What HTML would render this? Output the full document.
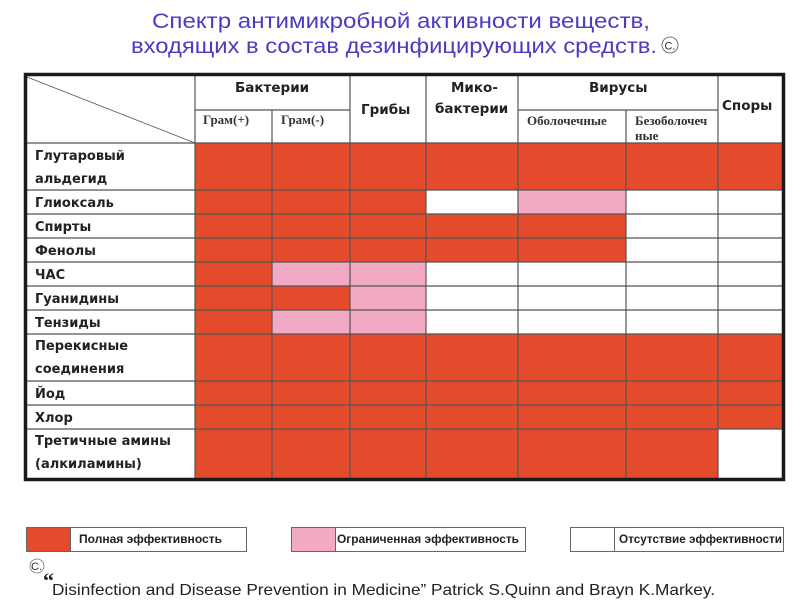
<!DOCTYPE html>
<html><head><meta charset="utf-8"><style>
html,body{margin:0;padding:0;background:#fff;}
svg{display:block;}
.lb{font-family:"DejaVu Sans",sans-serif;font-weight:bold;font-size:13px;fill:#222;}
.hd{font-family:"DejaVu Sans",sans-serif;font-weight:bold;font-size:13.5px;fill:#222;}
.sb{font-family:"Liberation Serif",serif;font-weight:bold;font-size:13px;fill:#333;}
.lg{font-family:"Liberation Sans",sans-serif;font-weight:bold;font-size:11.5px;fill:#222;}
</style></head><body>
<svg width="800" height="600" viewBox="0 0 800 600" xmlns="http://www.w3.org/2000/svg">
<rect width="800" height="600" fill="#fff"/>
<g font-family="Liberation Sans, sans-serif" font-size="21" fill="#4a3cc0">
<text x="152" y="28" textLength="498" lengthAdjust="spacingAndGlyphs">Спектр антимикробной активности веществ,</text>
<text x="131" y="53" textLength="526" lengthAdjust="spacingAndGlyphs">входящих в состав дезинфицирующих средств.</text>
</g>
<circle cx="670" cy="45" r="8" fill="none" stroke="#555" stroke-width="0.8"/>
<text x="664.5" y="49.5" font-family="Liberation Sans, sans-serif" font-size="11" fill="#333">C.</text>

<rect x="195" y="143" width="588" height="336" fill="#e44b2c"/>
<rect x="426" y="190" width="92" height="24" fill="#fff"/>
<rect x="518" y="190" width="108" height="24" fill="#f2a9c4"/>
<rect x="626" y="190" width="157" height="24" fill="#fff"/>
<rect x="626" y="214" width="157" height="48" fill="#fff"/>
<rect x="272" y="262" width="154" height="24" fill="#f2a9c4"/>
<rect x="426" y="262" width="357" height="72" fill="#fff"/>
<rect x="350" y="286" width="76" height="24" fill="#f2a9c4"/>
<rect x="272" y="310" width="154" height="24" fill="#f2a9c4"/>
<rect x="718" y="429" width="65" height="50" fill="#fff"/>

<g stroke="#555" stroke-width="1.2" fill="none">
<line x1="24" y1="143" x2="783" y2="143"/>
<line x1="24" y1="190" x2="783" y2="190"/>
<line x1="24" y1="214" x2="783" y2="214"/>
<line x1="24" y1="238" x2="783" y2="238"/>
<line x1="24" y1="262" x2="783" y2="262"/>
<line x1="24" y1="286" x2="783" y2="286"/>
<line x1="24" y1="310" x2="783" y2="310"/>
<line x1="24" y1="334" x2="783" y2="334"/>
<line x1="24" y1="381" x2="783" y2="381"/>
<line x1="24" y1="405" x2="783" y2="405"/>
<line x1="24" y1="429" x2="783" y2="429"/>
<line x1="195" y1="110" x2="350" y2="110"/>
<line x1="518" y1="110" x2="718" y2="110"/>
<line x1="195" y1="75" x2="195" y2="479"/>
<line x1="272" y1="110" x2="272" y2="479"/>
<line x1="350" y1="75" x2="350" y2="479"/>
<line x1="426" y1="75" x2="426" y2="479"/>
<line x1="518" y1="75" x2="518" y2="479"/>
<line x1="626" y1="110" x2="626" y2="479"/>
<line x1="718" y1="75" x2="718" y2="479"/>
<line x1="27" y1="77" x2="195" y2="143" stroke-width="0.8"/>
</g>
<rect x="25.5" y="74.5" width="758" height="405" fill="none" stroke="#1a1a1a" stroke-width="3.5"/>

<text class="hd" x="235" y="92">Бактерии</text>
<text class="hd" x="361" y="114">Грибы</text>
<text class="hd" x="451" y="92">Мико-</text>
<text class="hd" x="435" y="113">бактерии</text>
<text class="hd" x="589" y="92">Вирусы</text>
<text class="hd" x="722" y="110" font-size="15">Споры</text>
<text class="sb" x="203" y="124">Грам(+)</text>
<text class="sb" x="281" y="124">Грам(-)</text>
<text class="sb" x="527" y="125" font-size="12.5">Оболочечные</text>
<text class="sb" x="635" y="125" font-size="12.5">Безоболочеч</text>
<text class="sb" x="635" y="140" font-size="12.5">ные</text>

<text class="lb" x="35" y="160">Глутаровый</text>
<text class="lb" x="35" y="183">альдегид</text>
<text class="lb" x="35" y="207">Глиоксаль</text>
<text class="lb" x="35" y="231">Спирты</text>
<text class="lb" x="35" y="255">Фенолы</text>
<text class="lb" x="35" y="279">ЧАС</text>
<text class="lb" x="35" y="303">Гуанидины</text>
<text class="lb" x="35" y="327">Тензиды</text>
<text class="lb" x="35" y="350">Перекисные</text>
<text class="lb" x="35" y="373">соединения</text>
<text class="lb" x="35" y="398">Йод</text>
<text class="lb" x="35" y="422">Хлор</text>
<text class="lb" x="35" y="445">Третичные амины</text>
<text class="lb" x="35" y="468">(алкиламины)</text>

<g stroke="#666" stroke-width="1">
<rect x="26.5" y="527.5" width="44" height="24" fill="#e44b2c"/>
<rect x="70.5" y="527.5" width="176" height="24" fill="#fff"/>
<rect x="291.5" y="527.5" width="44" height="24" fill="#f2a9c4"/>
<rect x="335.5" y="527.5" width="190" height="24" fill="#fff"/>
<rect x="570.5" y="527.5" width="44" height="24" fill="#fff"/>
<rect x="614.5" y="527.5" width="169" height="24" fill="#fff"/>
</g>
<text class="lg" x="79" y="543" textLength="143" lengthAdjust="spacingAndGlyphs">Полная эффективность</text>
<text class="lg" x="337" y="543" textLength="182" lengthAdjust="spacingAndGlyphs">Ограниченная эффективность</text>
<text class="lg" x="619" y="543" textLength="163" lengthAdjust="spacingAndGlyphs">Отсутствие эффективности</text>

<circle cx="37" cy="566" r="7" fill="none" stroke="#777" stroke-width="0.8"/>
<text x="31" y="570" font-family="Liberation Sans, sans-serif" font-size="11" fill="#333">C.</text>
<text x="43" y="588" font-family="Liberation Serif, serif" font-size="22" font-weight="bold" fill="#222">“</text>
<text x="52" y="595" font-family="Liberation Sans, sans-serif" font-size="16" fill="#222" textLength="663" lengthAdjust="spacingAndGlyphs">Disinfection and Disease Prevention in Medicine”  Patrick S.Quinn and Brayn K.Markey.</text>
</svg>
</body></html>
